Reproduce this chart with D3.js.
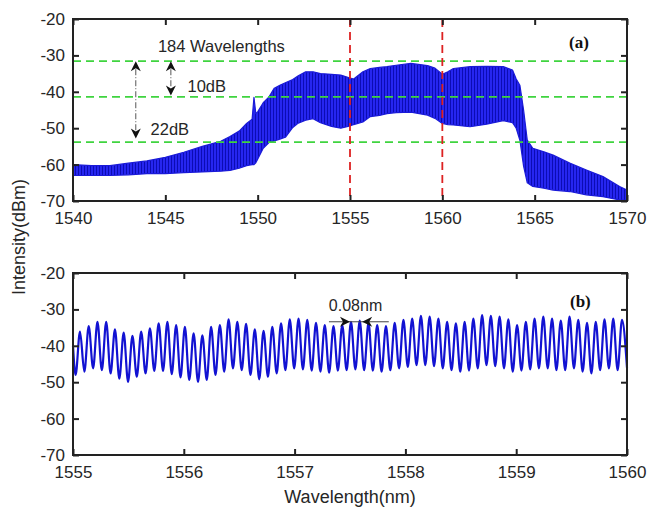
<!DOCTYPE html>
<html>
<head>
<meta charset="utf-8">
<script src="https://cdn.jsdelivr.net/npm/d3@7"></script>
<style>
  html, body { margin: 0; padding: 0; background: #fff; }
  svg { display: block; }
</style>
</head>
<body>
<div id="app"></div>
<script>
// ---- data ----
// panel (a): envelope of the comb spectrum
const aWave  = [1540, 1541, 1542, 1543, 1544, 1545, 1546, 1547, 1548, 1548.5, 1549, 1549.4, 1549.7, 1549.8, 1549.9, 1550.0, 1550.3, 1550.6, 1550.9, 1551.2, 1551.5, 1551.9, 1552.2, 1552.6, 1553, 1553.4, 1554, 1554.5, 1555, 1555.2, 1555.7, 1556.1, 1556.6, 1557, 1557.5, 1558.3, 1559.2, 1559.6, 1560, 1560.3, 1560.6, 1561.5, 1562.4, 1563.3, 1563.8, 1564.0, 1564.2, 1564.4, 1564.6, 1564.9, 1565.5, 1566, 1566.9, 1567.8, 1568.7, 1569.6, 1570];
const aUpper = [-60, -60.3, -60.3, -59.6, -59, -58, -56.6, -55, -53.6, -52.3, -50.8, -48.7, -47.5, -41.5, -46, -45.5, -43, -41.5, -39, -38.2, -37.5, -36.6, -35.6, -34.5, -34.5, -35, -35.2, -35.4, -36.2, -36.5, -34.5, -33.6, -33.3, -33.1, -32.7, -32.2, -32.8, -33.5, -35.2, -34.5, -33.6, -33.1, -33, -33.1, -34, -36.5, -38.2, -45, -53.3, -55.5, -56.5, -57.4, -59.6, -61.5, -63.3, -66, -67];
const aLower = [-63, -63, -63, -62.8, -62.5, -62.5, -62.2, -62, -61.8, -61.6, -61, -60.3, -60, -60, -59.5, -58.5, -55.5, -54, -53.5, -53, -52.5, -49.8, -48.6, -47.8, -47.4, -48.5, -49.5, -50, -49.4, -49, -48.3, -46.8, -46.5, -46, -45.7, -45.6, -46.4, -47.3, -48.7, -49, -49.1, -49.6, -48.9, -47.9, -48.5, -50, -53.3, -60.4, -65, -66, -66.5, -67, -67.4, -68.3, -68.8, -69.7, -69.8];
const levelLines = [-31.6, -41.4, -53.8];   // green dashed
const markWaves = [1555, 1560];             // red dashed

// panel (b): individual comb lines, 0.08 nm grid
const bFirstPeak = 1555.063;
const bSpacing = 0.0789;
const bStartVal = -40;
const bEndVal = -46;
const bPeaks = [-36.1, -34.6, -33.4, -33.4, -35.5, -36.4, -37.3, -36.1, -35.2, -33.8, -33.4, -34.3, -34.8, -36.6, -37.1,
  -34.8, -34.3, -32.7, -33.4, -34.0, -35.5, -35.9, -34.8, -33.8, -32.7, -32.5, -32.9, -33.7, -34.3, -34.6, -34.3,
  -33.4, -33.1, -33.7, -34.3, -34.6, -33.7, -32.9, -32.5, -31.8, -32.0, -32.5, -33.4, -33.8, -33.4, -32.5, -31.6,
  -31.8, -32.0, -32.7, -34.3, -33.4, -32.5, -32.0, -32.5, -33.1, -32.0, -32.9, -33.7, -33.4, -32.7, -32.5, -32.9];
const bTroughs = [-48.0, -47.1, -46.2, -46.7, -47.6, -49.0, -49.9, -48.5, -47.6, -46.9, -46.9, -47.8, -48.7, -49.4, -49.9, -49.4,
  -48.0, -47.1, -46.2, -46.7, -48.0, -49.2, -48.5, -47.6, -46.7, -46.2, -46.5, -46.8, -47.1, -47.4, -46.8, -46.7,
  -46.5, -46.7, -46.8, -47.1, -46.7, -46.2, -45.8, -45.3, -45.3, -45.6, -46.2, -46.7, -47.1, -46.8, -46.2,
  -45.3, -45.6, -46.2, -47.1, -46.8, -46.5, -46.2, -46.2, -46.7, -46.7, -46.2, -47.1, -47.6, -46.7, -46.2, -46.7];

const yTicks = [-70, -60, -50, -40, -30, -20];
const aTicks = [1540, 1545, 1550, 1555, 1560, 1565, 1570];
const bTicks = [1555, 1556, 1557, 1558, 1559, 1560];

// ---- layout ----
const width = 647, height = 509;
const left = 73, right = 627;
const aTop = 19, aBottom = 201;
const bTop = 273, bBottom = 455;
const font = "'Liberation Sans', Arial, sans-serif";
const txt = "#262626";

const svg = d3.select("#app").append("svg")
  .attr("width", width).attr("height", height)
  .attr("viewBox", [0, 0, width, height])
  .style("font-family", font);

svg.append("rect").attr("width", width).attr("height", height).attr("fill", "#fff");

// vertical hatch to suggest the dense comb lines in (a)
const pat = svg.append("defs").append("pattern")
  .attr("id", "comb").attr("patternUnits", "userSpaceOnUse")
  .attr("width", 3).attr("height", 10);
pat.append("rect").attr("width", 3).attr("height", 10).attr("fill", "#2626f0");
pat.append("rect").attr("width", 1).attr("height", 10).attr("fill", "#0c0cb4");

const xa = d3.scaleLinear().domain([1540, 1570]).range([left, right]);
const ya = d3.scaleLinear().domain([-70, -20]).range([aBottom, aTop]);
const xb = d3.scaleLinear().domain([1555, 1560]).range([left, right]);
const yb = d3.scaleLinear().domain([-70, -20]).range([bBottom, bTop]);

function frame(x, y, ticksX, top, bottom) {
  const g = svg.append("g");
  // inward ticks on four sides
  g.append("g").attr("transform", `translate(0,${bottom})`)
    .call(d3.axisBottom(x).tickValues(ticksX).tickSize(-6).tickPadding(11).tickFormat(d => String(d)))
    .call(a => a.select(".domain").remove())
    .call(a => a.selectAll("text").attr("fill", txt).attr("font-size", 17).attr("font-family", font))
    .call(a => a.selectAll("line").attr("stroke", "#222").attr("stroke-width", 2));
  g.append("g").attr("transform", `translate(0,${top})`)
    .call(d3.axisTop(x).tickValues(ticksX).tickSize(-6).tickFormat(""))
    .call(a => a.select(".domain").remove())
    .call(a => a.selectAll("line").attr("stroke", "#222").attr("stroke-width", 2));
  g.append("g").attr("transform", `translate(${left},0)`)
    .call(d3.axisLeft(y).tickValues(yTicks).tickSize(-6).tickPadding(8).tickFormat(d => String(d)))
    .call(a => a.select(".domain").remove())
    .call(a => a.selectAll("text").attr("fill", txt).attr("font-size", 17).attr("font-family", font))
    .call(a => a.selectAll("line").attr("stroke", "#222").attr("stroke-width", 2));
  g.append("g").attr("transform", `translate(${right},0)`)
    .call(d3.axisRight(y).tickValues(yTicks).tickSize(-6).tickFormat(""))
    .call(a => a.select(".domain").remove())
    .call(a => a.selectAll("line").attr("stroke", "#222").attr("stroke-width", 2));
  g.append("rect")
    .attr("x", left).attr("y", top)
    .attr("width", right - left).attr("height", bottom - top)
    .attr("fill", "none").attr("stroke", "#222").attr("stroke-width", 2);
}

// ---- panel (a) ----
const aData = aWave.map((w, i) => ({ w, hi: aUpper[i], lo: aLower[i] }));
svg.append("path")
  .datum(aData)
  .attr("fill", "url(#comb)")
  .attr("stroke", "#1a1ad8")
  .attr("stroke-width", 1.2)
  .attr("stroke-linejoin", "round")
  .attr("d", d3.area().x(d => xa(d.w)).y0(d => ya(d.lo)).y1(d => ya(d.hi)));

svg.append("g")
  .selectAll("line")
  .data(levelLines)
  .join("line")
    .attr("x1", left).attr("x2", right)
    .attr("y1", d => ya(d)).attr("y2", d => ya(d))
    .attr("stroke", "#3fd43f").attr("stroke-width", 1.8)
    .attr("stroke-dasharray", "8,5");

svg.append("g")
  .selectAll("line")
  .data(markWaves)
  .join("line")
    .attr("x1", d => xa(d)).attr("x2", d => xa(d))
    .attr("y1", aTop).attr("y2", aBottom)
    .attr("stroke", "#dd2222").attr("stroke-width", 1.8)
    .attr("stroke-dasharray", "8,5");

// double arrows
function vArrow(w, v1, v2) {
  const xp = xa(w), y1 = ya(v1), y2 = ya(v2);
  svg.append("line")
    .attr("x1", xp).attr("x2", xp).attr("y1", y1 + 8).attr("y2", y2 - 8)
    .attr("stroke", "#555").attr("stroke-width", 1)
    .attr("stroke-dasharray", "6,2,1,2");
  svg.append("path")
    .attr("d", `M${xp},${y1} l-5,10 l5,-3 l5,3 Z`)
    .attr("fill", "#111");
  svg.append("path")
    .attr("d", `M${xp},${y2} l-5,-10 l5,3 l5,-3 Z`)
    .attr("fill", "#111");
}
vArrow(1543.4, -31.6, -52.8);
vArrow(1545.3, -31.6, -41.0);

svg.append("text").attr("x", xa(1544.6)).attr("y", 52)
  .attr("font-size", 16.5).attr("fill", txt).text("184 Wavelengths");
svg.append("text").attr("x", xa(1546.2)).attr("y", 92)
  .attr("font-size", 16.5).attr("fill", txt).text("10dB");
svg.append("text").attr("x", xa(1544.2)).attr("y", 135)
  .attr("font-size", 16.5).attr("fill", txt).text("22dB");
svg.append("text").attr("x", 569).attr("y", 48)
  .attr("font-family", "'Liberation Serif', 'Times New Roman', serif")
  .attr("font-weight", "bold").attr("font-size", 17).attr("fill", "#111")
  .text("(a)");

frame(xa, ya, aTicks, aTop, aBottom);

// ---- panel (b) ----
const bData = [{ w: 1555, v: bStartVal }, { w: bFirstPeak - bSpacing / 2, v: bTroughs[0] }];
bPeaks.forEach((p, i) => {
  const w = bFirstPeak + i * bSpacing;
  bData.push({ w, v: p });
  if (i + 1 < bTroughs.length) bData.push({ w: w + bSpacing / 2, v: bTroughs[i + 1] });
});
bData.push({ w: 1560, v: bEndVal });

svg.append("path")
  .datum(bData)
  .attr("fill", "none")
  .attr("stroke", "#1212d2")
  .attr("stroke-width", 2.2)
  .attr("d", d3.line().curve(d3.curveMonotoneX).x(d => xb(d.w)).y(d => yb(d.v)));

// 0.08nm marker
const mY = yb(-33.4);
svg.append("line")
  .attr("x1", xb(1557.31)).attr("x2", xb(1557.85))
  .attr("y1", mY).attr("y2", mY)
  .attr("stroke", "#444").attr("stroke-width", 1);
svg.append("path")
  .attr("d", `M${xb(1557.50)},${mY} l-10,-5 l3,5 l-3,5 Z`).attr("fill", "#111");
svg.append("path")
  .attr("d", `M${xb(1557.61)},${mY} l10,-5 l-3,5 l3,5 Z`).attr("fill", "#111");
svg.append("text").attr("x", xb(1557.55)).attr("y", 311)
  .attr("text-anchor", "middle").attr("font-size", 16).attr("fill", txt).text("0.08nm");
svg.append("text").attr("x", 570).attr("y", 307)
  .attr("font-family", "'Liberation Serif', 'Times New Roman', serif")
  .attr("font-weight", "bold").attr("font-size", 17).attr("fill", "#111")
  .text("(b)");

frame(xb, yb, bTicks, bTop, bBottom);

// ---- axis titles ----
svg.append("text")
  .attr("transform", `translate(25,237) rotate(-90)`)
  .attr("text-anchor", "middle").attr("font-size", 18).attr("fill", txt)
  .text("Intensity(dBm)");
svg.append("text")
  .attr("x", 350).attr("y", 503)
  .attr("text-anchor", "middle").attr("font-size", 18).attr("fill", txt)
  .text("Wavelength(nm)");
</script>
</body>
</html>
